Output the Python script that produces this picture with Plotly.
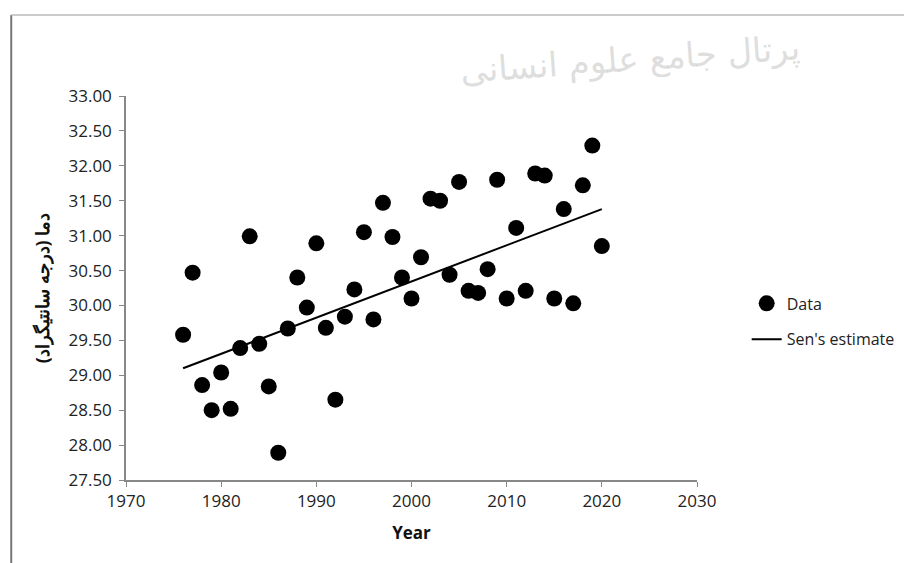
import plotly.graph_objects as go

years = list(range(1976, 2021))
temps = [29.58, 30.47, 28.86, 28.50, 29.04, 28.52, 29.39, 30.99, 29.45, 28.84,
         27.89, 29.67, 30.40, 29.97, 30.89, 29.68, 28.65, 29.84, 30.23, 31.05,
         29.80, 31.47, 30.98, 30.40, 30.10, 30.69, 31.53, 31.50, 30.44, 31.77,
         30.21, 30.18, 30.52, 31.80, 30.10, 31.11, 30.21, 31.89, 31.86, 30.10,
         31.38, 30.03, 31.72, 32.29, 30.85]

sen_years = [1976, 2020]
sen_values = [29.10, 31.38]

y_ticks = [27.5 + 0.5 * i for i in range(12)]
x_ticks = [1970, 1980, 1990, 2000, 2010, 2020, 2030]

font_family = "Open Sans, Liberation Sans, sans-serif"

fig = go.Figure()
fig.add_trace(go.Scatter(
    x=years, y=temps, mode="markers", name="Data",
    marker=dict(color="black", size=16),
    legendgroup="a",
))
fig.add_trace(go.Scatter(
    x=sen_years, y=sen_values, mode="lines", name="Sen's estimate",
    line=dict(color="black", width=2),
    legendgroup="b",
))

fig.update_layout(
    width=904, height=555,
    paper_bgcolor="white", plot_bgcolor="white",
    margin=dict(l=118, r=215, t=88, b=83, autoexpand=False),
    font=dict(family=font_family, size=16, color="#222"),
    showlegend=True,
    legend=dict(
        x=1.087, y=0.504, xanchor="left", yanchor="top",
        font=dict(size=16, color="#222"),
        tracegroupgap=12,
        traceorder="grouped",
        bgcolor="rgba(0,0,0,0)",
    ),
    xaxis=dict(
        range=[1970, 2030], tickvals=x_ticks, automargin=False,
        showgrid=False, zeroline=False,
        showline=True, linecolor="#888", linewidth=1.5,
        ticks="outside", ticklen=5, tickcolor="#888",
        tickfont=dict(size=17, color="#222"),
        title=dict(text="<b>Year</b>", font=dict(size=17, color="#111"), standoff=16),
    ),
    yaxis=dict(
        range=[27.5, 33.0], tickvals=y_ticks, tickformat=".2f", automargin=False,
        showgrid=False, zeroline=False,
        showline=True, linecolor="#888", linewidth=1.5,
        ticks="outside", ticklen=5, tickcolor="#888",
        ticklabelstandoff=4,
        tickfont=dict(size=17, color="#222"),
        title=dict(text="<b>دما (درجه سانتیگراد)</b>", font=dict(size=18, color="#111"), standoff=14),
    ),
    shapes=[
        dict(type="line", xref="paper", yref="paper",
             x0=-0.201, x1=-0.201, y0=-0.25, y1=1.211,
             line=dict(color="#777", width=2)),
        dict(type="line", xref="paper", yref="paper",
             x0=-0.201, x1=1.38, y0=1.211, y1=1.211,
             line=dict(color="#bbb", width=1.5)),
    ],
    annotations=[
        dict(text="پرتال جامع علوم انسانی", xref="paper", yref="paper",
             x=0.883, y=1.094, xanchor="center", yanchor="middle",
             showarrow=False, textangle=-4,
             font=dict(size=34, color="rgba(200,200,200,0.6)",
                       family="DejaVu Sans, Noto Sans, sans-serif")),
    ],
)

fig.write_html("out.html")
